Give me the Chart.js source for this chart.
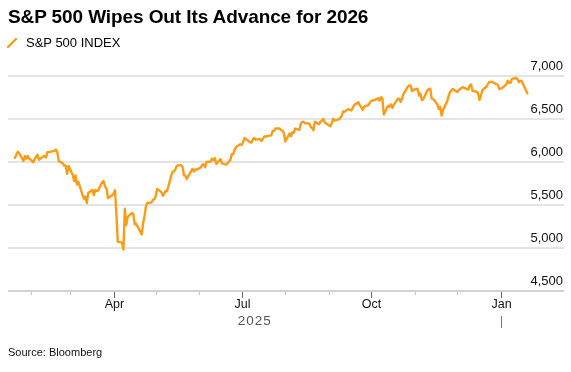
<!DOCTYPE html>
<html>
<head>
<meta charset="utf-8">
<script src="https://cdn.jsdelivr.net/npm/chart.js@4/dist/chart.umd.min.js"></script>
<style>
  html, body { margin: 0; padding: 0; background: #fff; }
  body { width: 571px; height: 372px; position: relative; overflow: hidden;
         font-family: "Liberation Sans", Arial, sans-serif; color: #000; }
  #chart { position: absolute; left: 0; top: 0; }
  #title { position: absolute; left: 8px; top: 6px; font-size: 19px; font-weight: bold; letter-spacing: -0.1px; }
  #legend { position: absolute; left: 7px; top: 35px; font-size: 13px; display: flex; align-items: center; }
  #legend svg { margin-right: 9px; }
  #source { position: absolute; left: 8px; top: 346px; font-size: 11px; color: #111; }
</style>
</head>
<body>
<canvas id="chart" width="571" height="372"></canvas>
<div id="title">S&amp;P 500 Wipes Out Its Advance for 2026</div>
<div id="legend"><svg width="10" height="10"><line x1="1" y1="9" x2="9" y2="1" stroke="#fa9c18" stroke-width="2.4" stroke-linecap="round"/></svg>S&amp;P 500 INDEX</div>
<div id="source">Source: Bloomberg</div>
<script>
/* S&P 500 daily closes, Jan 2025 - Jan 2026 */
var dates = [
  '2025-01-21','2025-01-22','2025-01-23','2025-01-24','2025-01-27','2025-01-28','2025-01-29','2025-01-30','2025-01-31',
  '2025-02-03','2025-02-04','2025-02-05','2025-02-06','2025-02-07','2025-02-10','2025-02-11','2025-02-12','2025-02-13','2025-02-14','2025-02-18','2025-02-19','2025-02-20','2025-02-21','2025-02-24','2025-02-25','2025-02-26','2025-02-27','2025-02-28',
  '2025-03-03','2025-03-04','2025-03-05','2025-03-06','2025-03-07','2025-03-10','2025-03-11','2025-03-12','2025-03-13','2025-03-14','2025-03-17','2025-03-18','2025-03-19','2025-03-20','2025-03-21','2025-03-24','2025-03-25','2025-03-26','2025-03-27','2025-03-28','2025-03-31',
  '2025-04-01','2025-04-02','2025-04-03','2025-04-04','2025-04-07','2025-04-08','2025-04-09','2025-04-10','2025-04-11','2025-04-14','2025-04-15','2025-04-16','2025-04-17','2025-04-21','2025-04-22','2025-04-23','2025-04-24','2025-04-25','2025-04-28','2025-04-29','2025-04-30',
  '2025-05-01','2025-05-02','2025-05-05','2025-05-06','2025-05-07','2025-05-08','2025-05-09','2025-05-12','2025-05-13','2025-05-14','2025-05-15','2025-05-16','2025-05-19','2025-05-20','2025-05-21','2025-05-22','2025-05-23','2025-05-27','2025-05-28','2025-05-29','2025-05-30',
  '2025-06-02','2025-06-03','2025-06-04','2025-06-05','2025-06-06','2025-06-09','2025-06-10','2025-06-11','2025-06-12','2025-06-13','2025-06-16','2025-06-17','2025-06-18','2025-06-20','2025-06-23','2025-06-24','2025-06-25','2025-06-26','2025-06-27','2025-06-30',
  '2025-07-01','2025-07-02','2025-07-03','2025-07-07','2025-07-08','2025-07-09','2025-07-10','2025-07-11','2025-07-14','2025-07-15','2025-07-16','2025-07-17','2025-07-18','2025-07-21','2025-07-22','2025-07-23','2025-07-24','2025-07-25','2025-07-28','2025-07-29','2025-07-30','2025-07-31',
  '2025-08-01','2025-08-04','2025-08-05','2025-08-06','2025-08-07','2025-08-08','2025-08-11','2025-08-12','2025-08-13','2025-08-14','2025-08-15','2025-08-18','2025-08-19','2025-08-20','2025-08-21','2025-08-22','2025-08-25','2025-08-26','2025-08-27','2025-08-28','2025-08-29',
  '2025-09-02','2025-09-03','2025-09-04','2025-09-05','2025-09-08','2025-09-09','2025-09-10','2025-09-11','2025-09-12','2025-09-15','2025-09-16','2025-09-17','2025-09-18','2025-09-19','2025-09-22','2025-09-23','2025-09-24','2025-09-25','2025-09-26','2025-09-29','2025-09-30',
  '2025-10-01','2025-10-02','2025-10-03','2025-10-06','2025-10-07','2025-10-08','2025-10-09','2025-10-10','2025-10-13','2025-10-14','2025-10-15','2025-10-16','2025-10-17','2025-10-20','2025-10-21','2025-10-22','2025-10-23','2025-10-24','2025-10-27','2025-10-28','2025-10-29','2025-10-30','2025-10-31',
  '2025-11-03','2025-11-04','2025-11-05','2025-11-06','2025-11-07','2025-11-10','2025-11-11','2025-11-12','2025-11-13','2025-11-14','2025-11-17','2025-11-18','2025-11-19','2025-11-20','2025-11-21','2025-11-24','2025-11-25','2025-11-26','2025-11-28',
  '2025-12-01','2025-12-02','2025-12-03','2025-12-04','2025-12-05','2025-12-08','2025-12-09','2025-12-10','2025-12-11','2025-12-12','2025-12-15','2025-12-16','2025-12-17','2025-12-18','2025-12-19','2025-12-22','2025-12-23','2025-12-24','2025-12-26','2025-12-29','2025-12-30','2025-12-31',
  '2026-01-02','2026-01-05','2026-01-06','2026-01-07','2026-01-08','2026-01-09','2026-01-12','2026-01-13','2026-01-14','2026-01-15','2026-01-16','2026-01-20'
];
var closes = [
  6049, 6086, 6119, 6101, 6012, 6068, 6039, 6071, 6041,
  5995, 6038, 6061, 6084, 6026, 6066, 6069, 6052, 6115, 6115, 6130, 6144, 6118, 6013, 5983, 5955, 5956, 5862, 5955,
  5850, 5778, 5843, 5739, 5770, 5615, 5572, 5599, 5522, 5639, 5675, 5615, 5675, 5663, 5668, 5768, 5777, 5712, 5693, 5581, 5612,
  5633, 5671, 5397, 5074, 5062, 4983, 5457, 5268, 5363, 5406, 5397, 5276, 5283, 5158, 5288, 5376, 5485, 5525, 5529, 5561, 5569,
  5604, 5687, 5650, 5607, 5631, 5664, 5660, 5844, 5887, 5893, 5917, 5958, 5964, 5940, 5845, 5842, 5803, 5922, 5889, 5912, 5912,
  5936, 5970, 5971, 5939, 6000, 6006, 6039, 6022, 6045, 5977, 6033, 5983, 5981, 5968, 6025, 6092, 6092, 6141, 6173, 6205,
  6198, 6227, 6279, 6230, 6226, 6263, 6280, 6260, 6269, 6244, 6264, 6297, 6297, 6306, 6310, 6359, 6363, 6389, 6390, 6371, 6363, 6339,
  6238, 6330, 6299, 6345, 6340, 6389, 6373, 6446, 6467, 6469, 6450, 6449, 6411, 6396, 6370, 6467, 6439, 6466, 6481, 6502, 6460,
  6416, 6448, 6502, 6482, 6495, 6513, 6532, 6587, 6584, 6615, 6607, 6600, 6632, 6664, 6694, 6657, 6638, 6605, 6644, 6661, 6688,
  6711, 6715, 6716, 6740, 6715, 6754, 6735, 6553, 6655, 6644, 6671, 6629, 6664, 6735, 6735, 6699, 6738, 6792, 6875, 6891, 6891, 6822, 6840,
  6852, 6772, 6796, 6720, 6729, 6832, 6847, 6851, 6737, 6734, 6672, 6617, 6642, 6539, 6603, 6705, 6766, 6813, 6849,
  6813, 6829, 6850, 6857, 6870, 6847, 6841, 6887, 6901, 6827, 6817, 6800, 6721, 6775, 6835, 6878, 6910, 6932, 6930, 6906, 6896, 6846,
  6858, 6902, 6945, 6921, 6921, 6966, 6977, 6964, 6927, 6944, 6940, 6797
];

var yTicks = [4500, 5000, 5500, 6000, 6500, 7000];
var monthStarts = ['2025-02-01','2025-03-01','2025-04-01','2025-05-01','2025-06-01','2025-07-01',
                   '2025-08-01','2025-09-01','2025-10-01','2025-11-01','2025-12-01','2026-01-01'];
var monthLabels = ['', '', 'Apr', '', '', 'Jul', '', '', 'Oct', '', '', 'Jan'];
var yearLabel = '2025';
var yearEnd = '2026-01-01';
var xRange = ['2025-01-16', '2026-02-15'];

var ORANGE = '#fa9c18';
var FONT = '"Liberation Sans", Arial, sans-serif';

// days since 2025-01-01 (linear x axis, no date adapter needed)
function dayNum(s) {
  var p = s.split('-');
  return (Date.UTC(+p[0], +p[1] - 1, +p[2]) - Date.UTC(2025, 0, 1)) / 86400000;
}
function fmt(v) { return String(v).replace(/\B(?=(\d{3})+(?!\d))/g, ','); }

var points = dates.map(function (d, i) { return { x: dayNum(d), y: closes[i] }; });

var axisDecor = {
  id: 'axisDecor',
  afterDraw: function (chart) {
    var ctx = chart.ctx, a = chart.chartArea, x = chart.scales.x, y = chart.scales.y;
    ctx.save();
    // y labels sit above their gridlines, right aligned
    ctx.font = '13px ' + FONT;
    ctx.fillStyle = '#111';
    ctx.textAlign = 'right';
    ctx.textBaseline = 'middle';
    yTicks.forEach(function (v) {
      ctx.fillText(fmt(v), a.right - 1, y.getPixelForValue(v) - 10);
    });
    // month ticks + labels
    ctx.textAlign = 'center';
    monthStarts.forEach(function (d, i) {
      var px = Math.round(x.getPixelForValue(dayNum(d))) + 0.5;
      var major = monthLabels[i] !== '';
      ctx.strokeStyle = major ? '#666' : '#c4c4c4';
      ctx.lineWidth = 1;
      ctx.beginPath();
      ctx.moveTo(px, a.bottom + 1);
      ctx.lineTo(px, a.bottom + (major ? 7 : 4));
      ctx.stroke();
      if (major) {
        ctx.font = '12.5px ' + FONT;
        ctx.fillStyle = '#111';
        ctx.fillText(monthLabels[i], px, a.bottom + 14);
      }
    });
    // year separator and year label
    var jan = Math.round(x.getPixelForValue(dayNum(yearEnd))) + 0.5;
    ctx.strokeStyle = '#777';
    ctx.beginPath();
    ctx.moveTo(jan, a.bottom + 25);
    ctx.lineTo(jan, a.bottom + 37);
    ctx.stroke();
    ctx.font = '13.5px ' + FONT;
    ctx.fillStyle = '#555';
    if ('letterSpacing' in ctx) ctx.letterSpacing = '1px';
    ctx.fillText(yearLabel, (a.left + jan) / 2, a.bottom + 30);
    ctx.restore();
  }
};

new Chart(document.getElementById('chart'), {
  type: 'line',
  data: {
    datasets: [{
      label: 'S&P 500 INDEX',
      data: points,
      borderColor: ORANGE,
      borderWidth: 2.4,
      pointRadius: 0,
      tension: 0,
      borderJoinStyle: 'round',
      borderCapStyle: 'round'
    }]
  },
  options: {
    responsive: false,
    animation: false,
    devicePixelRatio: 1,
    layout: { padding: { left: 8, right: 7, top: 60, bottom: 81 } },
    plugins: { legend: { display: false }, tooltip: { enabled: false } },
    scales: {
      x: { type: 'linear', min: dayNum(xRange[0]), max: dayNum(xRange[1]), display: false },
      y: {
        position: 'right',
        min: 4500, max: 7186,
        afterBuildTicks: function (s) { s.ticks = yTicks.map(function (v) { return { value: v }; }); },
        ticks: { display: false },
        border: { display: false },
        grid: {
          drawTicks: false,
          color: function (c) { return c.tick && c.tick.value === yTicks[0] ? '#d2d2d2' : '#e4e4e4'; },
          lineWidth: 2
        }
      }
    }
  },
  plugins: [axisDecor]
});
</script>
</body>
</html>
